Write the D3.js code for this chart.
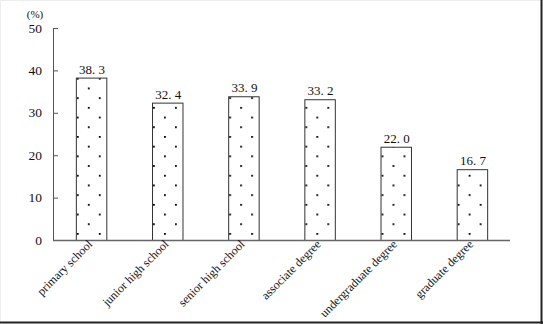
<!DOCTYPE html>
<html><head><meta charset="utf-8">
<script src="https://cdn.jsdelivr.net/npm/d3@7"></script>
<style>html,body{margin:0;padding:0;background:#fff;}svg{display:block;}</style>
</head><body>
<script>
const categories = ["primary school","junior high school","senior high school","associate degree","undergraduate degree","graduate degree"];
const values = [38.3, 32.4, 33.9, 33.2, 22.0, 16.7];
const valueLabels = ["38. 3","32. 4","33. 9","33. 2","22. 0","16. 7"];
const yTicks = [0,10,20,30,40,50];
const yUnit = "(%)";

const W = 543, H = 324;
const svg = d3.select("body").append("svg").attr("width", W).attr("height", H);
const serif = "'Liberation Serif','DejaVu Serif',serif";

const x0 = 53, x1 = 510, yBase = 240, yTop = 28;
const x = d3.scaleBand().domain(categories).range([x0, x1]).paddingInner(0.6).paddingOuter(0.3);
const y = d3.scaleLinear().domain([0, 50]).range([yBase, yTop]);

// frame
svg.append("line").attr("x1", 0).attr("x2", W).attr("y1", 0.5).attr("y2", 0.5).attr("stroke", "#eee");
svg.append("line").attr("x1", 0.5).attr("x2", 0.5).attr("y1", 0).attr("y2", H).attr("stroke", "#eee");
svg.append("line").attr("x1", 0).attr("x2", W).attr("y1", 322.5).attr("y2", 322.5).attr("stroke", "#222").attr("stroke-width", 2);
svg.append("line").attr("x1", 541.5).attr("x2", 541.5).attr("y1", 0).attr("y2", H).attr("stroke", "#222").attr("stroke-width", 2);

// patterns
const defs = svg.append("defs");
categories.forEach((c, i) => {
  const p = defs.append("pattern").attr("id", "dots" + i)
    .attr("patternUnits", "userSpaceOnUse")
    .attr("x", x(c) + 1).attr("y", yBase - 7 + (i % 2) * 9.7)
    .attr("width", 22).attr("height", 19.4);
  p.append("rect").attr("width", 22).attr("height", 19.4).attr("fill", "#fff");
  p.append("rect").attr("x", 0).attr("y", 0).attr("width", 1.8).attr("height", 1.8).attr("fill", "#000");
  p.append("rect").attr("x", 11).attr("y", 9.7).attr("width", 1.8).attr("height", 1.8).attr("fill", "#000");
});

// y axis
const yAxis = d3.axisRight(y).tickValues(yTicks).tickSize(5).tickFormat("");
const gy = svg.append("g").attr("transform", `translate(${x0},0)`).call(yAxis);
gy.select(".domain").attr("stroke", "#555").attr("d", `M5,${yTop+0.5}H0.5V${yBase}`);
gy.selectAll(".tick line").attr("stroke", "#555");
svg.selectAll(".ylab").data(yTicks).enter().append("text")
  .attr("x", 42).attr("y", d => y(d) + 4.5).attr("text-anchor", "end")
  .attr("font-family", serif).attr("font-size", 13.5).attr("fill", "#111").text(d => d);
svg.append("text").attr("x", 35).attr("y", 18).attr("text-anchor", "middle")
  .attr("font-family", serif).attr("font-size", 11).attr("fill", "#111").text(yUnit);

// bars
svg.selectAll(".bar").data(categories).enter().append("rect")
  .attr("x", d => x(d) + 0.5).attr("y", (d, i) => y(values[i]) + 0.5)
  .attr("width", x.bandwidth()).attr("height", (d, i) => yBase - y(values[i]))
  .attr("fill", (d, i) => `url(#dots${i})`).attr("stroke", "#333").attr("stroke-width", 1);

// value labels
svg.selectAll(".vlab").data(categories).enter().append("text")
  .attr("x", d => x(d) + x.bandwidth() / 2 + 1).attr("y", (d, i) => y(values[i]) - 4)
  .attr("text-anchor", "middle").attr("font-family", serif).attr("font-size", 13).attr("fill", "#111")
  .text((d, i) => valueLabels[i]);

// x axis
const xAxis = d3.axisBottom(x).tickSize(0).tickFormat("");
const gx = svg.append("g").attr("transform", `translate(0,${yBase})`).call(xAxis);
gx.select(".domain").attr("stroke", "#666").attr("stroke-width", 1.5).attr("d", `M${x0},0.5H${x1}`);
svg.selectAll(".xlab").data(categories).enter().append("text")
  .attr("transform", d => `translate(${x(d) + x.bandwidth() / 2 + 2},${yBase + 5}) rotate(-45)`)
  .attr("text-anchor", "end").attr("font-family", serif).attr("font-size", 12).attr("fill", "#111")
  .text(d => d);
</script>
</body></html>
